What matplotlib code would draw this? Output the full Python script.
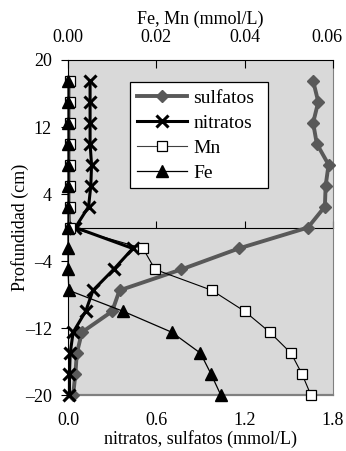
import matplotlib
matplotlib.use("Agg")
import matplotlib.pyplot as plt
from matplotlib.lines import Line2D

plt.rcParams['font.family'] = ['Liberation Serif', 'DejaVu Serif']

depth = [17.5, 15, 12.5, 10, 7.5, 5, 2.5, 0, -2.5, -5, -7.5, -10, -12.5, -15, -17.5, -20]
sulfatos = [1.665, 1.70, 1.665, 1.69, 1.77, 1.75, 1.745, 1.63, 1.16, 0.77, 0.35, 0.30, 0.095, 0.06, 0.05, 0.035]
nitratos = [0.15, 0.15, 0.15, 0.15, 0.16, 0.155, 0.14, 0.05, 0.44, 0.31, 0.17, 0.12, 0.035, 0.015, 0.01, 0.01]
mn = [0.0004, 0.0004, 0.0004, 0.0004, 0.0004, 0.0004, 0.0004, 0.0005, 0.017, 0.0197, 0.0326, 0.040, 0.0457, 0.0505, 0.053, 0.055]
fe = [0, 0, 0, 0, 0, 0, 0, 0, 0, 0, 0.0002, 0.0125, 0.0235, 0.030, 0.0324, 0.0346]

bottom_ticks = [0.0, 0.6, 1.2, 1.8]
bottom_labels = ['0.0', '0.6', '1.2', '1.8']
top_ticks = [0.00, 0.02, 0.04, 0.06]
top_labels = ['0.00', '0.02', '0.04', '0.06']
y_ticks = [20, 12, 4, -4, -12, -20]

FS = 13
TOP_PAD = 10

fig = plt.figure(figsize=(3.46, 4.51), dpi=100)
ax = fig.add_axes([0.1965, 0.124, 0.7659, 0.743])
ax.set_facecolor('#d9d9d9')
ax.set_xlim(0, 1.8)
ax.set_ylim(-20, 20)

ax.plot(sulfatos, depth, color='#595959', lw=2.8, marker='D', ms=6.5,
        mfc='#595959', mec='#595959', zorder=3, clip_on=False, label='sulfatos')
ax.plot(nitratos, depth, color='black', lw=2.2, marker='x', ms=8, mew=2.2,
        zorder=4, clip_on=False, label='nitratos')

ax.spines['right'].set_color('#808080')
ax.spines['top'].set_visible(False)
ax.spines['bottom'].set_position(('data', 0))
ax.spines['bottom'].set_color('black')
ax.spines['bottom'].set_zorder(2)
ax.spines['left'].set_color('black')
ax.set_xticks(bottom_ticks)
ax.tick_params(axis='x', direction='in', length=5, labelbottom=False, width=0.8)
ax.set_yticks(y_ticks)
ax.set_yticklabels([str(v).replace('-', '\u2013') for v in y_ticks])
ax.tick_params(axis='y', direction='out', length=5, labelsize=FS, width=0.8, pad=6.5)
ax.set_ylabel('Profundidad (cm)', fontsize=FS, labelpad=-3)
ax.axhline(-20, color='#808080', lw=1.6, zorder=1, clip_on=False)

sec = ax.secondary_xaxis('bottom')
sec.set_xticks(bottom_ticks)
sec.set_xticklabels(bottom_labels)
sec.tick_params(length=0, labelsize=FS, pad=12)
sec.spines['bottom'].set_visible(False)
sec.set_xlabel('nitratos, sulfatos (mmol/L)', fontsize=FS, labelpad=1)

ax2 = ax.twiny()
ax2.set_xlim(0, 0.06)
ax2.set_ylim(-20, 20)
ax2.plot(mn, depth, color='black', lw=0.8, marker='s', ms=7, mfc='white',
         mec='black', mew=0.9, zorder=5, clip_on=False, label='Mn')
ax2.plot(fe, depth, color='black', lw=0.9, marker='^', ms=8.5, mfc='black',
         mec='black', zorder=6, clip_on=False, label='Fe')
for s in ['left', 'right', 'bottom']:
    ax2.spines[s].set_visible(False)
ax2.spines['top'].set_color('black')
ax2.set_xticks(top_ticks)
ax2.set_xticklabels(top_labels[:-1] + [''])
ax2.tick_params(axis='x', direction='in', length=6, labelsize=FS, width=0.8, pad=TOP_PAD)
# last top label nudged left so it stays inside the figure (as in the original)
ax2.annotate(top_labels[-1], xy=(top_ticks[-1], 1), xycoords=('data', 'axes fraction'),
             xytext=(-4.5, TOP_PAD), textcoords='offset points',
             ha='center', va='bottom', fontsize=FS, annotation_clip=False)
ax2.set_xlabel('Fe, Mn (mmol/L)', fontsize=FS, labelpad=4)

handles = [
    Line2D([], [], color='#595959', lw=2.8, marker='D', ms=6.5, mfc='#595959', mec='#595959'),
    Line2D([], [], color='black', lw=2.2, marker='x', ms=8, mew=2.2),
    Line2D([], [], color='#404040', lw=0.8, marker='s', ms=7, mfc='white', mec='black', mew=0.9),
    Line2D([], [], color='black', lw=0.9, marker='^', ms=8.5, mfc='black', mec='black'),
]
leg = ax2.legend(handles, ['sulfatos', 'nitratos', 'Mn', 'Fe'], loc='upper left',
                 bbox_to_anchor=(0.234, 0.615, 0.521, 0.319), mode='expand',
                 fontsize=14, frameon=True,
                 fancybox=False, edgecolor='black', framealpha=1,
                 handlelength=2.6, labelspacing=0.38, borderpad=0.35,
                 handletextpad=0.3, borderaxespad=0)
leg.get_frame().set_linewidth(0.9)
leg.set_zorder(10)

fig.savefig('out.png', dpi=100, facecolor='white')
